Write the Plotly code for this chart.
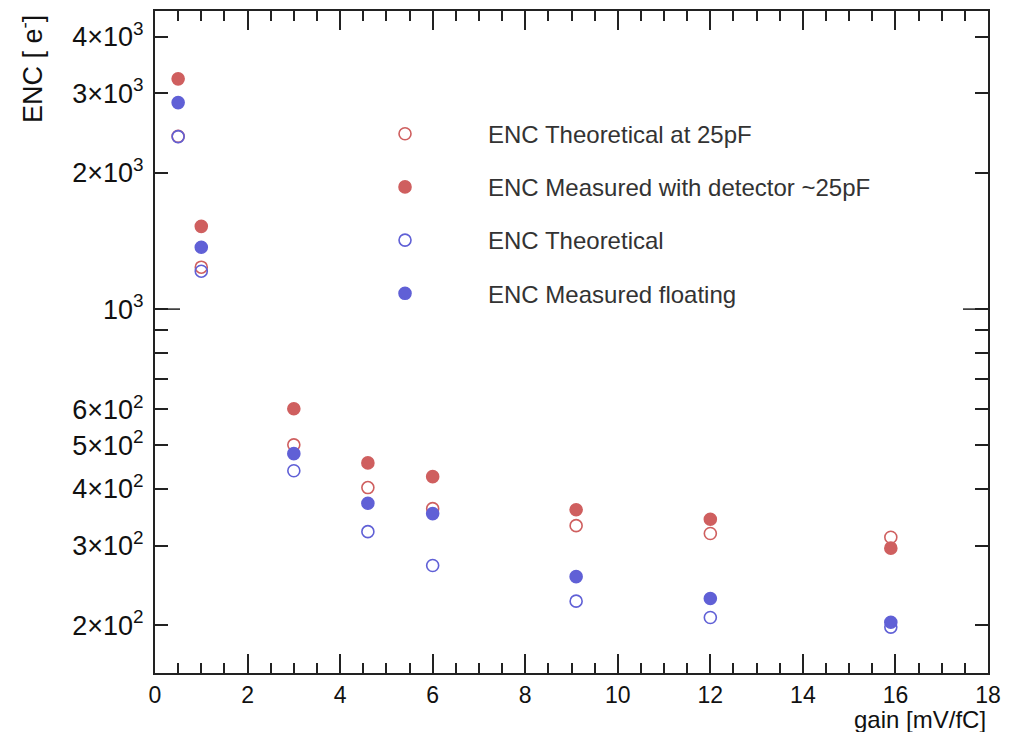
import plotly.graph_objects as go

# Gain settings [mV/fC]
gain = [0.5, 1.0, 3.0, 4.6, 6.0, 9.1, 12.0, 15.9]

# Equivalent noise charge [e-]
enc_theo_25pf = [2410, 1238, 501, 403, 362, 332, 319, 313]
enc_meas_det = [3230, 1524, 602, 457, 426, 360, 343, 296]
enc_theo = [2407, 1213, 439, 322, 271, 226, 208, 198]
enc_meas_float = [2862, 1370, 479, 372, 353, 256, 229, 203]

# Log-axis labels and unlabelled intermediate ticks
y_tickvals = [200, 300, 400, 500, 600, 1000, 2000, 3000, 4000]
y_ticktext = ["2×10<sup>2</sup>", "3×10<sup>2</sup>", "4×10<sup>2</sup>",
              "5×10<sup>2</sup>", "6×10<sup>2</sup>", "10<sup>3</sup>",
              "2×10<sup>3</sup>", "3×10<sup>3</sup>", "4×10<sup>3</sup>"]
y_minor_vals = [700, 800, 900]

RED = "#cf5f5f"
BLUE = "#6060d6"
FONT = "Liberation Sans, Arial, Helvetica, sans-serif"
AXIS = "#222222"
TXT = "#111111"

fig = go.Figure()

series = [
    ("ENC Theoretical at 25pF", enc_theo_25pf, RED, "circle-open"),
    ("ENC Measured with detector ~25pF", enc_meas_det, RED, "circle"),
    ("ENC Theoretical", enc_theo, BLUE, "circle-open"),
    ("ENC Measured floating", enc_meas_float, BLUE, "circle"),
]
for name, vals, color, symbol in series:
    fig.add_trace(go.Scatter(
        x=gain, y=vals, mode="markers", name=name, legendgroup=name,
        marker=dict(symbol=symbol, size=12, color=color,
                    line=dict(width=1.6, color=color)),
    ))

fig.update_layout(
    width=1010, height=732,
    margin=dict(l=155, r=22, t=9, b=59),
    paper_bgcolor="white", plot_bgcolor="white",
    font=dict(family=FONT, color=TXT),
    showlegend=True,
    legend=dict(
        x=0.2005, y=0.848, xanchor="left", yanchor="top",
        bgcolor="rgba(0,0,0,0)", borderwidth=0,
        font=dict(family=FONT, size=24, color="#333333"),
        itemwidth=156, tracegroupgap=19,
    ),
    xaxis=dict(
        range=[0, 18], showgrid=False, zeroline=False,
        showline=True, linecolor=AXIS, linewidth=2, mirror="ticks",
        ticks="inside", ticklen=19, tickwidth=1.5, tickcolor=AXIS,
        dtick=2, tick0=0,
        minor=dict(ticks="inside", ticklen=10, tickwidth=1.5,
                   tickcolor=AXIS, dtick=0.5, tick0=0),
        tickfont=dict(family=FONT, size=23, color=TXT),
    ),
    yaxis=dict(
        type="log", range=[2.1952, 3.6593], showgrid=False, zeroline=False,
        showline=True, linecolor=AXIS, linewidth=2, mirror="ticks",
        ticks="inside", ticklen=13, tickwidth=1.5, tickcolor=AXIS,
        tickmode="array", tickvals=y_tickvals, ticktext=y_ticktext,
        minor=dict(ticks="inside", ticklen=13, tickwidth=1.5,
                   tickcolor=AXIS, tickmode="array", tickvals=y_minor_vals),
        tickfont=dict(family=FONT, size=27, color=TXT),
        ticklabelstandoff=4,
    ),
)

# Longer tick marking the decade at 10^3 on both vertical axes
for x0, x1 in [(0, 25 / 833), (1 - 25 / 833, 1)]:
    fig.add_shape(type="line", xref="paper", yref="y", x0=x0, x1=x1,
                  y0=1000, y1=1000, line=dict(color=AXIS, width=1.5))

# Axis titles placed at the ends of the axes
fig.add_annotation(text="gain [mV/fC]", xref="paper", yref="paper",
                   x=1.0, y=0, xanchor="right", yanchor="top", yshift=-31,
                   showarrow=False, font=dict(family=FONT, size=24, color=TXT))
fig.add_annotation(text="ENC [ e<sup>-</sup>]", xref="paper", yref="paper",
                   x=0, y=1.0, xanchor="right", yanchor="top", xshift=-105,
                   yshift=-2, textangle=-90, showarrow=False,
                   font=dict(family=FONT, size=27, color=TXT))

fig.write_html("out.html")
